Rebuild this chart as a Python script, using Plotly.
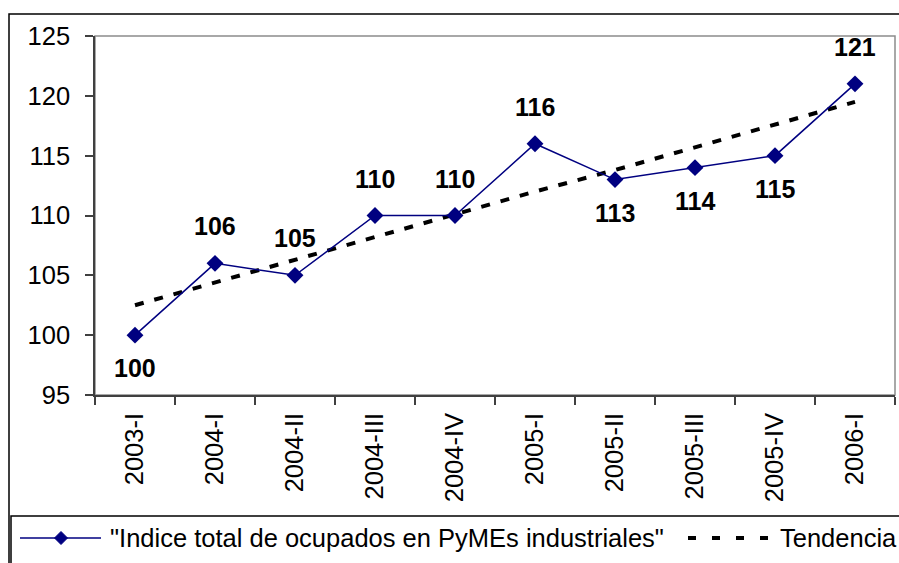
import plotly.graph_objects as go

categories = ["2003-I", "2004-I", "2004-II", "2004-III", "2004-IV",
              "2005-I", "2005-II", "2005-III", "2005-IV", "2006-I"]
indice = [100, 106, 105, 110, 110, 116, 113, 114, 115, 121]
tendencia = [102.5, 104.4, 106.3, 108.2, 110.1, 112.0, 113.8, 115.7, 117.6, 119.5]
label_above = [False, True, True, True, True, True, False, False, False, True]
y_ticks = [95, 100, 105, 110, 115, 120, 125]
series_name = "\"Indice total de ocupados en PyMEs industriales\""
trend_name = "Tendencia"

FONT = "Liberation Sans, Arial, sans-serif"
NAVY = "#000080"
FS = 25.5

W, H = 899, 563
L, R, T, B = 95, 895, 36, 395  # plot area in pixels


def px(x):
    return (x - L) / (R - L)


def py(y):
    return (B - y) / (B - T)


fig = go.Figure()

fig.add_trace(go.Scatter(
    x=categories, y=tendencia, mode="lines", name=trend_name,
    line=dict(color="black", width=4, dash="9px,11px"),
    showlegend=False, hoverinfo="skip"))

fig.add_trace(go.Scatter(
    x=categories, y=indice, mode="lines+markers", name=series_name,
    line=dict(color=NAVY, width=1.5),
    marker=dict(symbol="diamond", size=13, color=NAVY),
    showlegend=False))

annotations = []
for c, v, up in zip(categories, indice, label_above):
    annotations.append(dict(
        x=c, y=v, xref="x", yref="y", text=f"<b>{v}</b>", showarrow=False,
        yshift=37 if up else -33,
        font=dict(family=FONT, size=25, color="black")))

# legend (manual, to reproduce the wide samples)
ly = 538
annotations.append(dict(x=px(108), y=py(ly), xref="paper", yref="paper",
                        xanchor="left", yanchor="middle", showarrow=False,
                        text=series_name,
                        font=dict(family=FONT, size=FS, color="black")))
annotations.append(dict(x=px(778), y=py(ly), xref="paper", yref="paper",
                        xanchor="left", yanchor="middle", showarrow=False,
                        text=trend_name,
                        font=dict(family=FONT, size=FS, color="black")))

shapes = [
    # outer chart border
    dict(type="rect", xref="paper", yref="paper",
         x0=px(9), x1=px(910), y0=py(14), y1=py(580),
         line=dict(color="black", width=1.5), layer="below"),
    # plot area border
    dict(type="rect", xref="paper", yref="paper",
         x0=0, x1=1, y0=0, y1=1,
         line=dict(color="#8c8c8c", width=1.5), layer="below"),
    # legend box
    dict(type="rect", xref="paper", yref="paper",
         x0=px(11), x1=px(915), y0=py(516), y1=py(590),
         line=dict(color="black", width=1.5)),
    # legend sample: series line
    dict(type="line", xref="paper", yref="paper",
         x0=px(20), x1=px(101), y0=py(ly), y1=py(ly),
         line=dict(color=NAVY, width=1.5)),
    # legend sample: diamond
    dict(type="path", xref="paper", yref="paper",
         path=(f"M {px(61)},{py(ly-6.5)} L {px(67.5)},{py(ly)} "
               f"L {px(61)},{py(ly+6.5)} L {px(54.5)},{py(ly)} Z"),
         fillcolor=NAVY, line=dict(color=NAVY, width=1)),
    # legend sample: trend
    dict(type="line", xref="paper", yref="paper",
         x0=px(688), x1=px(768), y0=py(ly), y1=py(ly),
         line=dict(color="black", width=4, dash="8px,16px")),
]

fig.update_layout(
    width=W, height=H,
    margin=dict(l=L, r=W - R, t=T, b=H - B),
    paper_bgcolor="white", plot_bgcolor="white",
    showlegend=False,
    font=dict(family=FONT, size=FS, color="black"),
    annotations=annotations, shapes=shapes,
)

fig.update_xaxes(
    type="category", categoryorder="array", categoryarray=categories,
    tickangle=-90, tickson="boundaries", ticks="outside", ticklen=8,
    tickcolor="#404040", tickwidth=1.5,
    showline=True, linecolor="#404040", linewidth=1.5,
    showgrid=False, zeroline=False,
    tickfont=dict(family=FONT, size=FS, color="black"),
    ticklabelstandoff=6,
    range=[-0.5, len(categories) - 0.5])

fig.update_yaxes(
    range=[95, 125], tickvals=y_ticks, ticks="outside", ticklen=8,
    tickcolor="#404040", tickwidth=1.5,
    showline=True, linecolor="#404040", linewidth=1.5,
    showgrid=False, zeroline=False,
    tickfont=dict(family=FONT, size=FS, color="black"),
    ticklabelstandoff=10)

fig.write_html(
    "out.html",
    config={"displayModeBar": False},
    post_script="document.body.style.margin='0';document.body.style.overflow='hidden';")
